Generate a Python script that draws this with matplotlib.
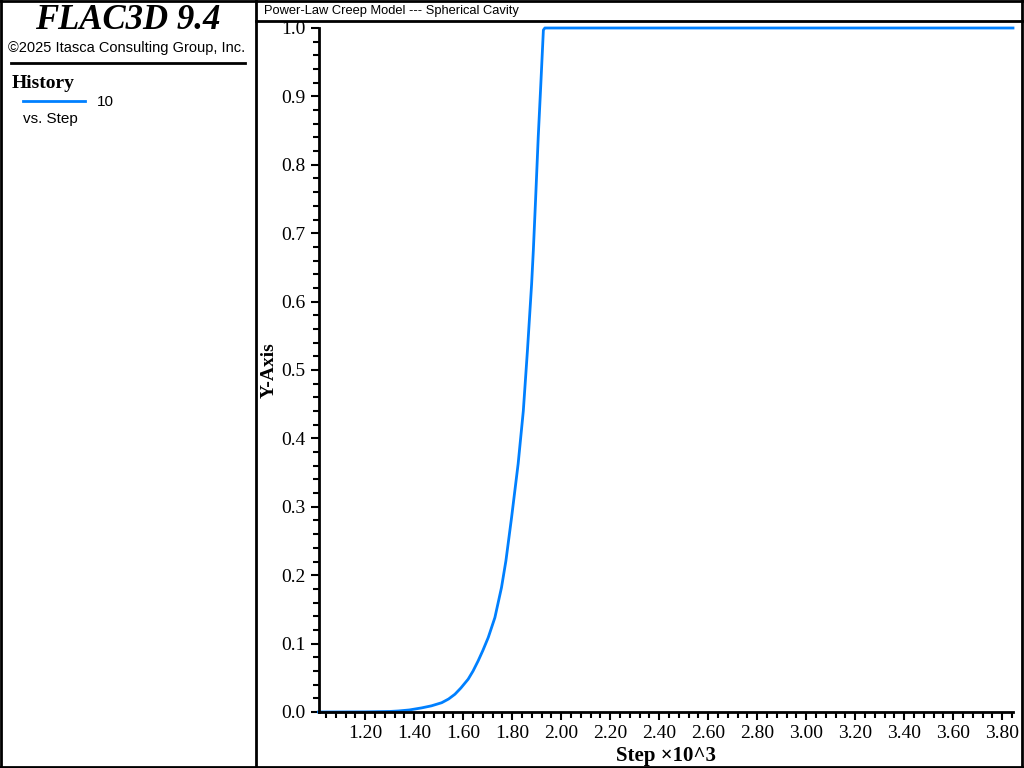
"""
FLAC3D history plot: power-law creep, spherical cavity
"""

import numpy as np
import matplotlib.pyplot as plt
from matplotlib.lines import Line2D
from matplotlib.ticker import MultipleLocator, FormatStrFormatter

# history 10 vs step (step in thousands)
step = [1.009, 1.2, 1.3, 1.335, 1.38, 1.43, 1.47, 1.512, 1.54, 1.566, 1.59,
        1.62, 1.64, 1.661, 1.68, 1.702, 1.729, 1.756, 1.774, 1.797, 1.824,
        1.845, 1.862, 1.879, 1.886, 1.895, 1.906, 1.916, 1.927, 1.933, 3.844]
value = [0.0, 0.0002, 0.0008, 0.0015, 0.003, 0.006, 0.009, 0.0136, 0.019, 0.026,
         0.035, 0.048, 0.06, 0.075, 0.09, 0.109, 0.138, 0.182, 0.221, 0.284,
         0.363, 0.44, 0.529, 0.626, 0.675, 0.748, 0.841, 0.914, 0.997, 1.0, 1.0]

title = "Power-Law Creep Model --- Spherical Cavity"
blue = "#0080ff"
serif = "Liberation Serif"
sans = "Liberation Sans"

W, H = 1024, 768
fig = plt.figure(figsize=(10.24, 7.68), dpi=100)


def fx(px):
    return px / W


def fy(py):
    return 1 - py / H


def hline(x0, x1, y, lw=2):
    fig.add_artist(Line2D([fx(x0), fx(x1)], [fy(y), fy(y)], color="black", lw=lw))


def vline(x, y0, y1, lw=2):
    fig.add_artist(Line2D([fx(x), fx(x)], [fy(y0), fy(y1)], color="black", lw=lw))


# panel frames
hline(0, 1023, 0.5)
hline(0, 1023, 767)
vline(0.5, 0, 768)
vline(1022, 0, 768)
vline(256, 0, 768)
hline(256, 1023, 21)

# left panel
fig.text(fx(128), fy(29), "FLAC3D 9.4", family=serif, style="italic",
         weight="bold", size=25, ha="center", va="baseline")
fig.text(fx(127), fy(48), "\u00a92025 Itasca Consulting Group, Inc.", family=sans,
         size=10.5, ha="center", va="center")
hline(11, 245, 63)
fig.text(fx(12), fy(84), "History", family=serif, weight="bold", size=14,
         ha="left", va="center")
fig.add_artist(Line2D([fx(23), fx(85)], [fy(101), fy(101)], color=blue, lw=2))
fig.text(fx(97), fy(102), "10", family=sans, size=11, ha="left", va="center")
fig.text(fx(23), fy(119), "vs. Step", family=sans, size=11, ha="left", va="center")

# right panel title
fig.text(fx(264), fy(11), title, family=sans, size=9.3, ha="left", va="center")

# main axes
ax = fig.add_axes([fx(318.5), fy(712), fx(1013) - fx(318.5), fy(28) - fy(712)])
ax.plot(step, value, color=blue, lw=2, clip_on=False)
ax.set_xlim(1.009, 3.844)
ax.set_ylim(0, 1.0)
for s in ["top", "right"]:
    ax.spines[s].set_visible(False)
for s in ["left", "bottom"]:
    ax.spines[s].set_linewidth(2)
ax.xaxis.set_major_locator(MultipleLocator(0.2))
ax.xaxis.set_minor_locator(MultipleLocator(0.04))
ax.yaxis.set_major_locator(MultipleLocator(0.1))
ax.yaxis.set_minor_locator(MultipleLocator(0.02))
ax.xaxis.set_major_formatter(FormatStrFormatter("%.2f"))
ax.yaxis.set_major_formatter(FormatStrFormatter("%.1f"))
ax.tick_params(which="major", direction="out", length=6, width=1.5)
ax.tick_params(which="minor", direction="out", length=4, width=1.5)
for lab in ax.get_xticklabels() + ax.get_yticklabels():
    lab.set_family(serif)
    lab.set_fontsize(14)
ax.set_xlabel("Step \u00d710^3", family=serif, weight="bold", size=15)
ax.set_ylabel("Y-Axis", family=serif, weight="bold", size=14)
ax.yaxis.set_label_coords(-(318.5 - 278) / (1013 - 318.5), 0.5)
ax.xaxis.set_label_coords(0.5, -(746 - 712) / (712 - 28))

fig.savefig("out.png", dpi=100)
